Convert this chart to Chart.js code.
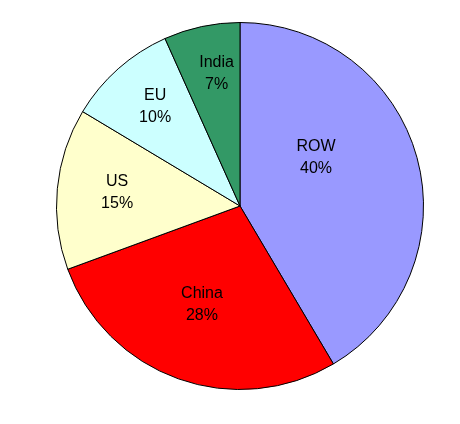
<!DOCTYPE html>
<html>
<head>
<meta charset="utf-8">
<script src="https://cdn.jsdelivr.net/npm/chart.js@4/dist/chart.umd.min.js"></script>
<style>
  html, body { margin: 0; padding: 0; background: #fff; }
  #wrap { width: 460px; height: 424px; }
</style>
</head>
<body>
<div id="wrap"><canvas id="myChart" width="460" height="424"></canvas></div>
<script>
// shares by region, clockwise from 12 o'clock (slice sizes as drawn)
const regions = ['ROW', 'China', 'US', 'EU', 'India'];
const shares = [41.5, 27.9, 14.2, 9.7, 6.7];
// percent text printed on each slice
const shareText = ['40%', '28%', '15%', '10%', '7%'];
const sliceColors = ['#9999FF', '#FF0000', '#FFFFCC', '#CCFFFF', '#339966'];

// label placement inside each slice: fraction of radius and angle nudge (deg)
const labelRadius = [0.49, 0.575, 0.674, 0.711, 0.731];
const labelTurn = [-17, 1.5, 1, 1, 2];

const sliceLabels = {
    id: 'sliceLabels',
    afterDatasetsDraw(chart) {
        const ctx = chart.ctx;
        const meta = chart.getDatasetMeta(0);
        ctx.save();
        ctx.font = '16px "Liberation Sans", Arial, sans-serif';
        ctx.fillStyle = '#000';
        ctx.textAlign = 'center';
        ctx.textBaseline = 'middle';
        meta.data.forEach((arc, i) => {
            const p = arc.getProps(['x', 'y', 'startAngle', 'endAngle', 'outerRadius'], true);
            const mid = (p.startAngle + p.endAngle) / 2 + labelTurn[i] * Math.PI / 180;
            const r = p.outerRadius * labelRadius[i];
            const x = p.x + Math.cos(mid) * r;
            const y = p.y + Math.sin(mid) * r;
            ctx.fillText(regions[i], x, y - 11);
            ctx.fillText(shareText[i], x, y + 11);
        });
        ctx.restore();
    }
};

const ctx = document.getElementById('myChart').getContext('2d');
let myChart = new Chart(ctx, {
    type: 'pie',
    data: {
        labels: regions,
        datasets: [{
            data: shares,
            backgroundColor: sliceColors,
            borderColor: '#000',
            borderWidth: 1
        }]
    },
    options: {
        responsive: false,
        animation: false,
        layout: {
            padding: { top: 22, bottom: 34, left: 56, right: 36 }
        },
        plugins: {
            legend: { display: false },
            tooltip: { enabled: false }
        }
    },
    plugins: [sliceLabels]
});
</script>
</body>
</html>
